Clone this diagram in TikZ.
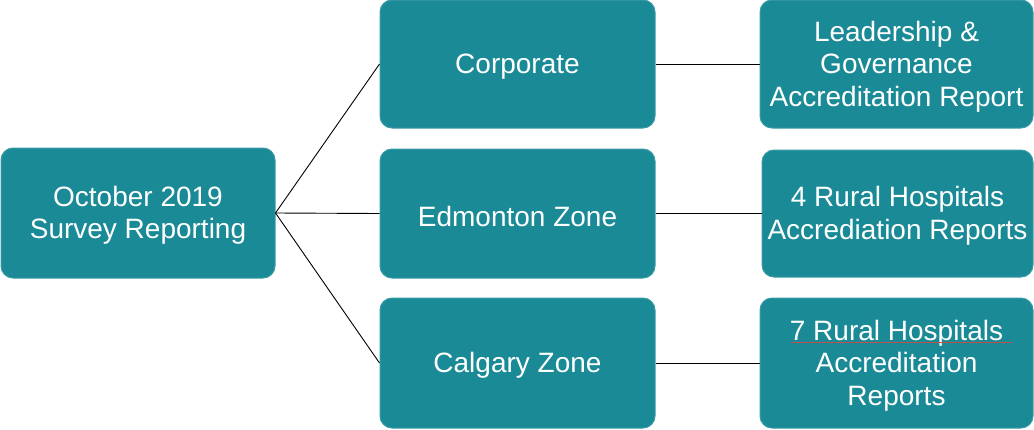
\documentclass[tikz,border=0pt]{standalone}
\usepackage{fontspec}
\setmainfont{Liberation Sans}
\definecolor{teal1}{HTML}{1A8A96}
\definecolor{tealb}{HTML}{3A9CA6}
\definecolor{squig}{HTML}{C0504D}
\begin{document}
\begin{tikzpicture}[x=1pt,y=-1pt,
  box/.style={draw=tealb, fill=teal1, line width=1pt, rounded corners=12pt, inner sep=0pt},
  txt/.style={text=white, align=center, font=\fontsize{28}{32.5}\selectfont, inner sep=0pt},
  conn/.style={draw=black, line width=0.9pt}]
\useasboundingbox (0,0) rectangle (1034,429);
\node[box, minimum width=274pt, minimum height=130pt] (root) at (138,213) {};
\node[box, minimum width=275pt, minimum height=128pt] (corp) at (517.5,64) {};
\node[box, minimum width=275pt, minimum height=129pt] (edm) at (517.5,213.5) {};
\node[box, minimum width=275pt, minimum height=130pt] (cal) at (517.5,363) {};
\node[box, minimum width=273pt, minimum height=128pt] (lg) at (896.5,64) {};
\node[box, minimum width=271pt, minimum height=127pt] (r4) at (897.5,213.5) {};
\node[box, minimum width=273pt, minimum height=130pt] (r7) at (896.5,363) {};
\node[txt] (roott) at ([yshift=-2.5pt]root.center) {October 2019\\Survey Reporting};
\node[txt] (corpt) at ([yshift=-2.5pt]corp.center) {Corporate};
\node[txt] (edmt) at ([yshift=-2.5pt]edm.center) {Edmonton Zone};
\node[txt] (calt) at ([yshift=-2.5pt]cal.center) {Calgary Zone};
\node[txt] (lgt) at ([yshift=-2.5pt]lg.center) {Leadership \&\\Governance\\Accreditation Report};
\node[txt] (r4t) at ([yshift=-2.5pt]r4.center) {4 Rural Hospitals\\Accrediation Reports};
\node[txt] (r7t) at ([yshift=-2.5pt]r7.center) {7 Rural Hospitals\\Accreditation\\Reports};
\draw[conn] (root.east) -- (corp.west);
\draw[conn] (root.east) -- (edm.west);
\draw[conn] (root.east) -- (cal.west);
\draw[conn] (corp.east) -- (lg.west);
\draw[conn] (edm.east) -- (r4.west);
\draw[conn] (cal.east) -- (r7.west);
\coordinate (sq1) at (791,342);
\coordinate (sq2) at (1012,342);
\draw[squig, line width=0.8pt] (sq1) -- (sq2);
\end{tikzpicture}
\end{document}
